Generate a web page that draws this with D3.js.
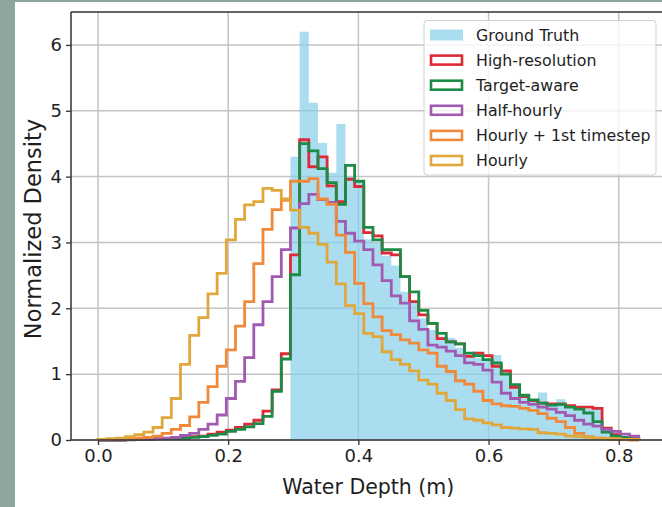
<!DOCTYPE html>
<html><head><meta charset="utf-8">
<script src="https://cdn.jsdelivr.net/npm/d3@7"></script>
<style>body{margin:0;background:#fff}svg{display:block}</style>
</head><body>
<svg id="chart" width="662" height="507"></svg>
<script>
// ---- data ----
const binStart = 0.0, binWidth = 0.01408, nBins = 59;
const groundTruth = [0,0,0,0,0,0,0,0,0,0,0,0,0,0,0,0,0,0,0,0,0,
 4.30,6.20,5.12,4.51,4.06,4.80,4.00,3.95,3.05,3.00,2.80,2.65,2.25,2.10,1.85,1.67,1.57,1.55,1.40,1.30,
 1.25,1.20,1.29,1.05,0.85,0.70,0.62,0.72,0.55,0.62,0.52,0.47,0.47,0.47,0.16,0.12,0.05,0.03];
const highRes = [0,0,0,0.005,0.01,0.015,0.02,0.025,0.03,0.04,0.05,0.06,0.09,0.12,0.15,0.19,0.24,0.30,0.44,0.76,1.31,
 2.81,4.56,4.15,4.30,3.86,3.62,3.96,3.85,3.15,3.10,2.84,2.81,2.48,2.10,1.90,1.77,1.54,1.49,1.46,1.27,
 1.32,1.28,1.12,1.05,0.80,0.66,0.60,0.56,0.55,0.55,0.52,0.50,0.50,0.48,0.18,0.08,0.04,0.02];
const targetAware = [0,0,0,0.004,0.008,0.012,0.016,0.02,0.025,0.03,0.04,0.05,0.07,0.09,0.13,0.16,0.20,0.25,0.36,0.74,1.23,
 2.51,4.50,4.39,4.12,3.91,3.58,4.17,3.93,3.23,3.04,2.89,2.89,2.48,2.25,1.97,1.77,1.62,1.49,1.46,1.32,
 1.28,1.22,1.17,1.00,0.84,0.68,0.61,0.56,0.53,0.54,0.50,0.47,0.41,0.28,0.12,0.06,0.04,0.02];
const halfHourly = [0,0,0.003,0.005,0.01,0.015,0.02,0.03,0.04,0.07,0.10,0.16,0.24,0.38,0.63,0.89,1.25,1.75,2.10,2.48,2.89,
 3.22,3.59,3.73,3.65,3.61,3.32,3.14,3.02,2.89,2.66,2.42,2.19,2.08,1.81,1.68,1.44,1.41,1.35,1.28,1.17,
 1.15,1.06,0.88,0.71,0.63,0.57,0.54,0.50,0.47,0.42,0.37,0.30,0.24,0.21,0.16,0.13,0.09,0.06];
const hourlyFirst = [0.005,0.01,0.015,0.02,0.03,0.04,0.06,0.10,0.16,0.22,0.35,0.57,0.81,1.12,1.37,1.73,2.10,2.68,3.20,3.50,3.64,
 3.93,3.93,3.97,3.66,3.58,3.11,2.85,2.38,2.07,1.87,1.66,1.60,1.52,1.47,1.37,1.32,1.12,1.04,0.90,0.85,
 0.74,0.60,0.55,0.52,0.51,0.48,0.45,0.40,0.33,0.28,0.19,0.10,0.05,0.03,0.02,0.01,0.005,0];
const hourly = [0.01,0.02,0.03,0.05,0.08,0.12,0.19,0.34,0.63,1.15,1.59,1.86,2.22,2.53,3.04,3.35,3.57,3.62,3.82,3.79,3.66,
 3.49,3.23,3.14,2.97,2.70,2.37,2.04,1.92,1.62,1.57,1.34,1.22,1.15,1.05,0.91,0.85,0.71,0.60,0.46,0.32,
 0.30,0.26,0.23,0.19,0.18,0.17,0.16,0.11,0.10,0.09,0.06,0.05,0.04,0.03,0.02,0.02,0.01,0.01];
const seriesNames = ["High-resolution","Target-aware","Half-hourly","Hourly + 1st timestep","Hourly"];
const seriesColors = ["#dc2a36","#1d8a45","#a05bb0","#f0893a","#e0a73a"];
const seriesValues = [highRes, targetAware, halfHourly, hourlyFirst, hourly];
const gtName = "Ground Truth", gtColor = "#87ceeb";
const xTicks = [0.0,0.2,0.4,0.6,0.8];
const yTicks = [0,1,2,3,4,5,6];
const xLabel = "Water Depth (m)", yLabel = "Normalized Density";

// ---- drawing ----
const svg = d3.select("#chart");
svg.append("rect").attr("width",662).attr("height",507).attr("fill","#8ea59f");
svg.append("rect").attr("x",15).attr("y",2).attr("width",647).attr("height",505).attr("fill","#fff");

const x = d3.scaleLinear().domain([-0.0415, 0.872]).range([71, 665.6]);
const y = d3.scaleLinear().domain([0, 6.5]).range([440, 12]);
const edges = d3.range(nBins+1).map(i => binStart + i*binWidth);
const font = "DejaVu Sans, sans-serif";
const textColor = "#1e1e1e";

// grid
const grid = svg.append("g");
grid.selectAll(".gx").data(xTicks).join("line")
  .attr("x1", d=>x(d)).attr("x2", d=>x(d)).attr("y1", y(6.5)).attr("y2", y(0))
  .attr("stroke","#c4c4c4").attr("stroke-width",1.5);
grid.selectAll(".gy").data(yTicks).join("line")
  .attr("x1", 71).attr("x2", 662).attr("y1", d=>y(d)).attr("y2", d=>y(d))
  .attr("stroke","#c4c4c4").attr("stroke-width",1.5);

// step helper
function stepPoints(vals, from, to){
  const pts = [[edges[from],0]];
  for(let i=from;i<to;i++){ pts.push([edges[i],vals[i]]); pts.push([edges[i+1],vals[i]]); }
  pts.push([edges[to],0]);
  return pts;
}
const line = d3.line().x(p=>x(p[0])).y(p=>y(p[1]));

// ground truth (filled step)
const gtFirst = groundTruth.findIndex(v=>v>0);
svg.append("path").attr("d", line(stepPoints(groundTruth, gtFirst, nBins))+"Z")
  .attr("fill", gtColor).attr("fill-opacity",0.7).attr("stroke","none");

// step outlines
seriesValues.forEach((vals,k)=>{
  svg.append("path").attr("d", line(stepPoints(vals,0,nBins))).attr("fill","none")
    .attr("stroke", seriesColors[k]).attr("stroke-width",2.8).attr("stroke-linejoin","miter");
});

// axes
const xAxis = svg.append("g").attr("transform","translate(0,440)")
  .call(d3.axisBottom(x).tickValues(xTicks).tickFormat(d3.format(".1f")).tickSize(5).tickPadding(4));
const yAxis = svg.append("g").attr("transform","translate(71,0)")
  .call(d3.axisLeft(y).tickValues(yTicks).tickFormat(d3.format("d")).tickSize(5).tickPadding(4));
[xAxis,yAxis].forEach(a=>{
  a.select(".domain").remove();
  a.selectAll(".tick line").attr("stroke","#333").attr("stroke-width",1.3);
  a.selectAll(".tick text").attr("font-family",font).attr("font-size",18).attr("fill",textColor);
});
// spines
svg.append("line").attr("x1",71).attr("x2",71).attr("y1",12).attr("y2",440).attr("stroke","#333").attr("stroke-width",1.5);
svg.append("line").attr("x1",71).attr("x2",662).attr("y1",440).attr("y2",440).attr("stroke","#333").attr("stroke-width",1.5);
svg.append("line").attr("x1",71).attr("x2",662).attr("y1",12).attr("y2",12).attr("stroke","#333").attr("stroke-width",1.5);

svg.append("text").attr("x",(71+665.6)/2).attr("y",494).attr("text-anchor","middle")
  .attr("font-family",font).attr("font-size",20.5).attr("fill",textColor).text(xLabel);
svg.append("text").attr("transform","translate(41,229) rotate(-90)").attr("text-anchor","middle")
  .attr("font-family",font).attr("font-size",22.5).attr("fill",textColor).text(yLabel);

// legend
const lg = svg.append("g");
lg.append("rect").attr("x",424).attr("y",20.5).attr("width",232).attr("height",154.5).attr("rx",3)
  .attr("fill","#fff").attr("fill-opacity",0.8).attr("stroke","#d0d0d0").attr("stroke-width",1);
const entries = [{name:gtName,color:gtColor,filled:true}].concat(seriesNames.map((n,i)=>({name:n,color:seriesColors[i],filled:false})));
entries.forEach((e,i)=>{
  const cy = 35 + i*25.1;
  if(e.filled){
    lg.append("rect").attr("x",430).attr("y",cy-5.5).attr("width",33).attr("height",11).attr("fill",e.color).attr("fill-opacity",0.7);
  } else {
    lg.append("rect").attr("x",431).attr("y",cy-4.5).attr("width",31).attr("height",9).attr("fill","none").attr("stroke",e.color).attr("stroke-width",2.6);
  }
  lg.append("text").attr("x",476).attr("y",cy).attr("dy","0.36em").attr("font-family",font).attr("font-size",15.8).attr("fill",textColor).text(e.name);
});
</script>
</body></html>
